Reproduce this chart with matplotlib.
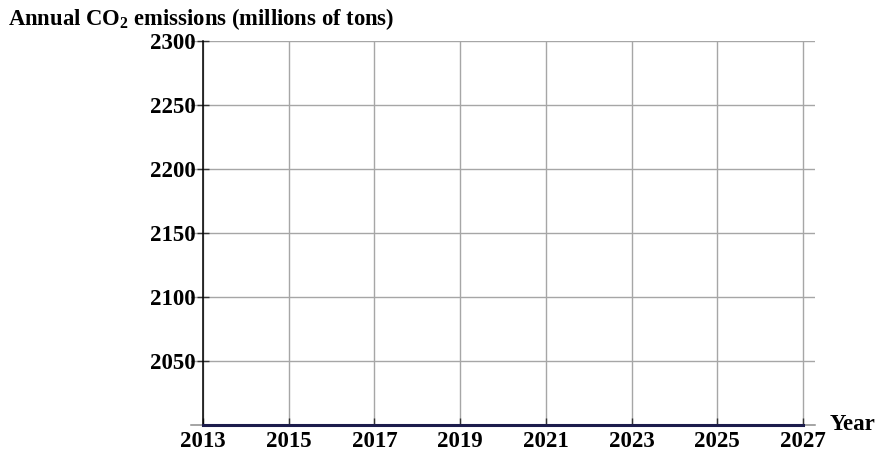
import numpy as np
import matplotlib.pyplot as plt

plt.rcParams['font.family'] = ['Liberation Serif', 'DejaVu Serif']
plt.rcParams['mathtext.fontset'] = 'custom'
plt.rcParams['mathtext.rm'] = 'Liberation Serif:bold'
plt.rcParams['mathtext.bf'] = 'Liberation Serif:bold'

# data
years = [2013, 2015, 2017, 2019, 2021, 2023, 2025, 2027]
emissions = [2000, 2000, 2000, 2000, 2000, 2000, 2000, 2000]
x_ticks = [2013, 2015, 2017, 2019, 2021, 2023, 2025, 2027]
y_ticks = [2050, 2100, 2150, 2200, 2250, 2300]

fig = plt.figure(figsize=(8.78, 4.51), dpi=100)
ax = fig.add_axes([191/878, 1 - 425/451, (815 - 191)/878, (425 - 41)/451])

pad = 12 * 14 / 600
ax.set_xlim(2013 - pad, 2027 + pad)
ax.set_ylim(2000, 2300)

ax.plot(years, emissions, color='#1c1c4c', lw=2.2, zorder=3, clip_on=False)

ax.set_xticks(x_ticks)
ax.set_yticks(y_ticks)
ax.grid(True, color='#a6a6a6', lw=1)
ax.set_axisbelow(True)

for s in ['top', 'right']:
    ax.spines[s].set_visible(False)
ax.spines['left'].set_position(('data', 2013))
ax.spines['left'].set_color('black')
ax.spines['left'].set_linewidth(1.1)
ax.spines['bottom'].set_color('#8c8c8c')
ax.spines['bottom'].set_linewidth(1.1)

ax.tick_params(axis='y', direction='inout', length=9, width=1, color='#333333',
               pad=1, labelsize=16.5)
ax.tick_params(axis='x', direction='in', length=5, width=1, color='#333333',
               pad=4, labelsize=16.5)
for lab in ax.get_xticklabels() + ax.get_yticklabels():
    lab.set_fontweight('bold')

fig.text(8/878, 1 - 19/451, r'Annual CO$_\mathbf{2}$ emissions (millions of tons)',
         fontsize=16.3, fontweight='bold', ha='left', va='center')
fig.text(830/878, 1 - 425/451, 'Year', fontsize=16.5, fontweight='bold',
         ha='left', va='center')

fig.savefig('out.png', dpi=100)
